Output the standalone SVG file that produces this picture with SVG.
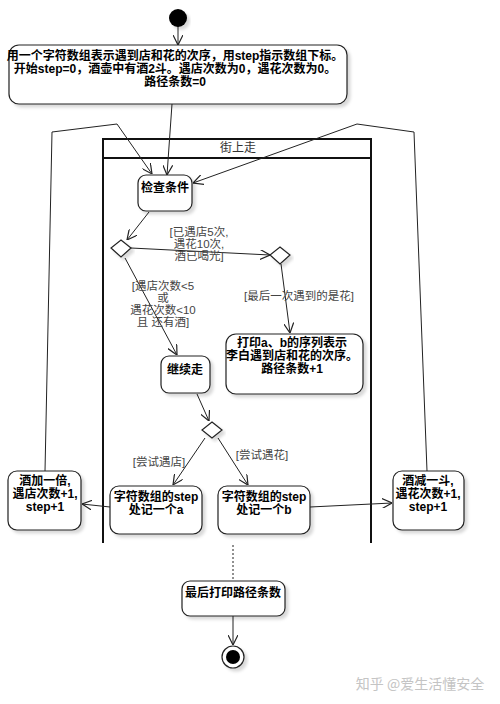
<svg xmlns="http://www.w3.org/2000/svg" width="500" height="704" viewBox="0 0 500 704">
<defs>
<marker id="arr" viewBox="0 0 10 10" refX="10" refY="5" markerWidth="10" markerHeight="10" markerUnits="userSpaceOnUse" orient="auto">
<path d="M0,0 L10,5 L0,10" fill="none" stroke="#222" stroke-width="1.2"/>
</marker>
<filter id="sh" x="-10%" y="-10%" width="130%" height="140%">
<feDropShadow dx="3" dy="3" stdDeviation="1.5" flood-color="#000" flood-opacity="0.15"/>
</filter>
</defs>
<style>
.node{fill:#fff;stroke:#222;stroke-width:1.2;filter:url(#sh)}
.t{font-family:"Liberation Sans","Noto Sans CJK SC",sans-serif;font-size:12px;font-weight:bold;fill:#000;text-anchor:middle}
.lb{font-family:"Liberation Sans","Noto Sans CJK SC",sans-serif;font-size:11.5px;fill:#444;text-anchor:middle}
.c{fill:none;stroke:#222;stroke-width:1}
.lane{fill:none;stroke:#111;stroke-width:2}
</style>
<rect width="500" height="704" fill="#fff"/>

<g id="swimlane">
<path class="lane" d="M103,543 V139 H371 V543 M103,158 H371"/>
<text x="238" y="152" class="lb" style="fill:#333;font-size:12px">街上走</text>
</g>

<g id="connectors">
<line class="c" x1="178" y1="26" x2="178" y2="45" marker-end="url(#arr)"/>
<line class="c" x1="172" y1="104" x2="167" y2="175" marker-end="url(#arr)"/>
<polyline class="c" points="45,471 52,132 117,124 152,174" marker-end="url(#arr)"/>
<polyline class="c" points="427,471 414,132 357,124 193,183" marker-end="url(#arr)"/>
<line class="c" x1="149" y1="212" x2="127" y2="240" marker-end="url(#arr)"/>
<line class="c" x1="131" y1="248" x2="270" y2="255" marker-end="url(#arr)"/>
<line class="c" x1="125" y1="258" x2="177" y2="355" marker-end="url(#arr)"/>
<line class="c" x1="281" y1="264" x2="290" y2="333" marker-end="url(#arr)"/>
<line class="c" x1="197" y1="394" x2="209" y2="421" marker-end="url(#arr)"/>
<line class="c" x1="205" y1="438" x2="173" y2="485" marker-end="url(#arr)"/>
<line class="c" x1="218" y1="438" x2="248" y2="485" marker-end="url(#arr)"/>
<line class="c" x1="110" y1="507" x2="82" y2="504" marker-end="url(#arr)"/>
<line class="c" x1="310" y1="507" x2="392" y2="503" marker-end="url(#arr)"/>
<line class="c" x1="233" y1="545" x2="233" y2="580" stroke-dasharray="2,2"/>
<line class="c" x1="233" y1="616" x2="233" y2="645" marker-end="url(#arr)"/>
<text class="lb" x="199" y="236">[已遇店5次,</text>
<text class="lb" x="199" y="248">遇花10次,</text>
<text class="lb" x="199" y="260">酒已喝光]</text>
<text class="lb" x="163" y="290">[遇店次数&lt;5</text>
<text class="lb" x="163" y="302">或</text>
<text class="lb" x="163" y="314">遇花次数&lt;10</text>
<text class="lb" x="163" y="326">且 还有酒]</text>
<text class="lb" x="299" y="300">[最后一次遇到的是花]</text>
<text class="lb" x="159" y="466">[尝试遇店]</text>
<text class="lb" x="262" y="459">[尝试遇花]</text>
</g>

<g id="start"><circle cx="178" cy="18" r="9" fill="#000" filter="url(#sh)"/></g>

<g id="init">
<rect class="node" x="9" y="45" width="338" height="59" rx="10"/>
<text class="t" x="175" y="60">用一个字符数组表示遇到店和花的次序，用step指示数组下标。</text>
<text class="t" x="175" y="73">开始step=0，酒壶中有酒2斗。遇店次数为0，遇花次数为0。</text>
<text class="t" x="175" y="86">路径条数=0</text>
</g>

<g id="check">
<rect class="node" x="138" y="175" width="54" height="36" rx="8"/>
<text class="t" x="165" y="192">检查条件</text>
</g>

<g id="d1"><polygon class="node" points="121,240 131,248 121,257 111,248"/></g>
<g id="d2"><polygon class="node" points="280,247 290,255 280,264 270,255"/></g>

<g id="go">
<rect class="node" x="161" y="356" width="49" height="37" rx="8"/>
<text class="t" x="185" y="374">继续走</text>
</g>

<g id="print">
<rect class="node" x="226" y="334" width="137" height="60" rx="10"/>
<text class="t" x="292" y="347">打印a、b的序列表示</text>
<text class="t" x="292" y="360">李白遇到店和花的次序。</text>
<text class="t" x="292" y="373">路径条数+1</text>
</g>

<g id="d3"><polygon class="node" points="212,422 222,430 212,438 202,430"/></g>

<g id="recA">
<rect class="node" x="110" y="486" width="92" height="48" rx="9"/>
<text class="t" x="156" y="501">字符数组的step</text>
<text class="t" x="156" y="514">处记一个a</text>
</g>

<g id="recB">
<rect class="node" x="218" y="486" width="92" height="48" rx="9"/>
<text class="t" x="264" y="501">字符数组的step</text>
<text class="t" x="264" y="514">处记一个b</text>
</g>

<g id="shop">
<rect class="node" x="8" y="471" width="73" height="59" rx="9"/>
<text class="t" x="45" y="485">酒加一倍,</text>
<text class="t" x="45" y="498">遇店次数+1,</text>
<text class="t" x="45" y="511">step+1</text>
</g>

<g id="flower">
<rect class="node" x="393" y="471" width="71" height="59" rx="9"/>
<text class="t" x="428" y="485">酒减一斗,</text>
<text class="t" x="428" y="498">遇花次数+1,</text>
<text class="t" x="428" y="511">step+1</text>
</g>

<g id="final">
<rect class="node" x="182" y="581" width="103" height="35" rx="8"/>
<text class="t" x="233" y="597">最后打印路径条数</text>
</g>

<g id="end">
<circle cx="233" cy="657" r="11" fill="#fff" stroke="#222" stroke-width="1.2" filter="url(#sh)"/>
<circle cx="233" cy="657" r="7" fill="#000"/>
</g>

<text x="420" y="689" style="font-family:'Noto Sans CJK SC',sans-serif;font-size:14px;fill:#c4c4c4;text-anchor:middle">知乎 @爱生活懂安全</text>
</svg>
